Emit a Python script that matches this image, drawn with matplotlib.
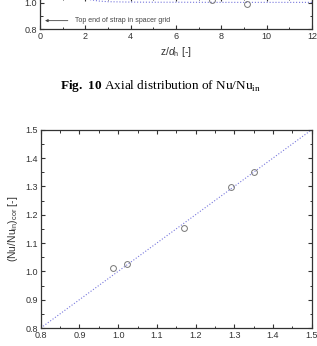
import numpy as np
import matplotlib
matplotlib.use('Agg')
from matplotlib import pyplot as plt
from matplotlib.ticker import MultipleLocator, FormatStrFormatter

plt.rcParams['font.family'] = ['Liberation Sans', 'DejaVu Sans']
plt.rcParams['mathtext.fontset'] = 'custom'
plt.rcParams['mathtext.rm'] = 'Liberation Serif'
plt.rcParams['mathtext.bf'] = 'Liberation Serif:bold'
plt.rcParams['mathtext.sf'] = 'Liberation Sans'
plt.rcParams['mathtext.it'] = 'Liberation Sans:italic'

# upper panel (Fig. 10, only its bottom strip is visible)
z_line = [1.5, 1.8, 2.2, 2.6, 3.0, 4.0, 5.0, 6.0, 8.0, 10.0, 12.0]
nu_line = [1.07, 1.04, 1.022, 1.012, 1.007, 1.004, 1.003, 1.003, 1.002, 1.002, 1.002]
z_pts = [7.57, 9.12]
nu_pts = [1.02, 0.988]

# lower panel (Fig. 11)
nu_meas = [0.986, 1.023, 1.171, 1.291, 1.351]
nu_cor = [1.013, 1.027, 1.153, 1.297, 1.350]
diag = [0.8, 1.5]

edge = '#333333'
tcol = '#333333'

fig = plt.figure(figsize=(3.17, 3.46), dpi=100)

def style(ax):
    for s in ax.spines.values():
        s.set_color(edge)
        s.set_linewidth(0.9)
    ax.tick_params(which='both', direction='in', top=True, right=True,
                   colors=edge, labelcolor=tcol, labelsize=6.5, pad=2)
    ax.tick_params(which='major', length=3, width=0.8)
    ax.tick_params(which='minor', length=1.8, width=0.7)

# top axes: upper part lies above the figure edge (cropped in the reference)
ax1 = fig.add_axes([0.1262, 0.9153, 0.858, 0.0925])
ax1.plot(z_line, nu_line, linestyle=':', color='#7777dd', linewidth=0.8)
ax1.plot(z_pts, nu_pts, 'o', mfc='none', mec='#777777', ms=4.2, mew=0.7,
         clip_on=False)
ax1.annotate('', xy=(0.1, 0.865), xytext=(1.35, 0.865),
             arrowprops=dict(arrowstyle='-|>', color='#444444', lw=0.6,
                             mutation_scale=4))
ax1.text(1.55, 0.865, 'Top end of strap in spacer grid', fontsize=5.0,
         color='#444444', va='center', ha='left')
ax1.set_xlim(0, 12)
ax1.set_ylim(0.8, 1.04)
ax1.xaxis.set_major_locator(MultipleLocator(2))
ax1.xaxis.set_minor_locator(MultipleLocator(1))
ax1.yaxis.set_major_locator(MultipleLocator(0.2))
ax1.yaxis.set_minor_locator(MultipleLocator(0.1))
ax1.yaxis.set_major_formatter(FormatStrFormatter('%.1f'))
style(ax1)
ax1.set_xlabel(r'z/$d$$_\mathsf{h}$ [-]', fontsize=7.5, color=tcol, labelpad=3)

fig.text(0.505, 1 - 86 / 346,
         r'$\mathbf{Fig.\ 10}$ Axial distribution of Nu/Nu$_{\mathrm{in}}$',
         fontsize=9.5, family='Liberation Serif', ha='center', va='center')

ax2 = fig.add_axes([0.1284, 0.052, 0.855, 0.5731])
ax2.plot(diag, diag, linestyle=':', color='#7777dd', linewidth=0.8)
ax2.plot(nu_meas, nu_cor, 'o', mfc='none', mec='#777777', ms=4.2, mew=0.7)
ax2.set_xlim(0.8, 1.5)
ax2.set_ylim(0.8, 1.5)
for axis in (ax2.xaxis, ax2.yaxis):
    axis.set_major_locator(MultipleLocator(0.1))
    axis.set_minor_locator(MultipleLocator(0.05))
    axis.set_major_formatter(FormatStrFormatter('%.1f'))
style(ax2)
ax2.set_ylabel(r'(Nu/Nu$_\mathsf{in}$)$_\mathsf{cor}$ [-]', fontsize=7.5,
               color=tcol, labelpad=4)

fig.savefig('out.png', dpi=100)
